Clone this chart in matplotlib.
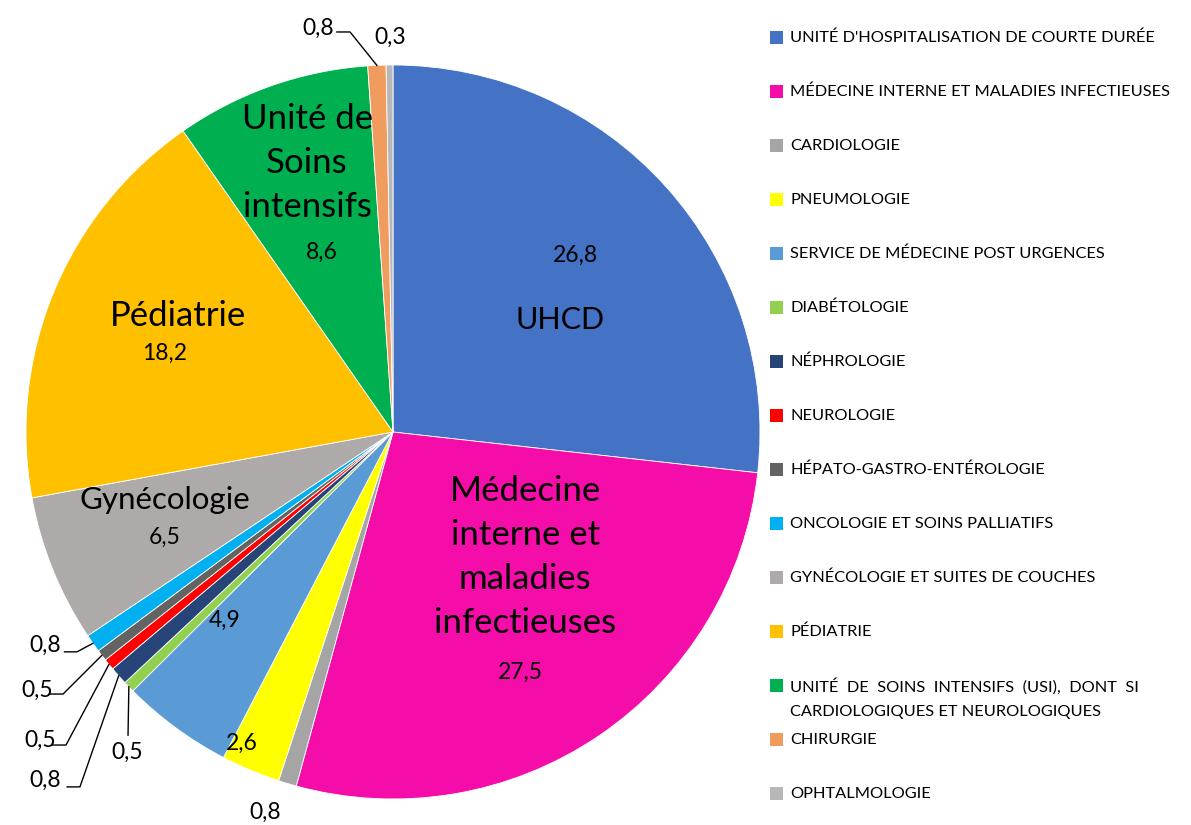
import numpy as np
import matplotlib
matplotlib.use("Agg")
import matplotlib.pyplot as plt
from matplotlib.patches import Rectangle
from matplotlib import font_manager

# ---------------- data ----------------
services = [
    "UNITÉ D'HOSPITALISATION DE COURTE DURÉE",
    "MÉDECINE INTERNE ET MALADIES INFECTIEUSES",
    "CARDIOLOGIE",
    "PNEUMOLOGIE",
    "SERVICE DE MÉDECINE POST URGENCES",
    "DIABÉTOLOGIE",
    "NÉPHROLOGIE",
    "NEUROLOGIE",
    "HÉPATO-GASTRO-ENTÉROLOGIE",
    "ONCOLOGIE ET SOINS PALLIATIFS",
    "GYNÉCOLOGIE ET SUITES DE COUCHES",
    "PÉDIATRIE",
    "UNITÉ  DE  SOINS  INTENSIFS  (USI),  DONT  SI\nCARDIOLOGIQUES ET NEUROLOGIQUES",
    "CHIRURGIE",
    "OPHTALMOLOGIE",
]
values = [26.8, 27.5, 0.8, 2.6, 4.9, 0.5, 0.8, 0.5, 0.5, 0.8, 6.5, 18.2, 8.6, 0.8, 0.3]
value_labels = ["26,8", "27,5", "0,8", "2,6", "4,9", "0,5", "0,8", "0,5", "0,5",
                "0,8", "6,5", "18,2", "8,6", "0,8", "0,3"]
names_in_pie = {0: "UHCD", 1: "Médecine\ninterne et\nmaladies\ninfectieuses",
                10: "Gynécologie", 11: "Pédiatrie", 12: "Unité de\nSoins\nintensifs"}
colors = ["#4472C4", "#F50DA9", "#A5A5A5", "#FFFF00", "#5B9BD5", "#92D050",
          "#264478", "#FF0000", "#636363", "#00B0F0", "#AEAAAA", "#FFC000",
          "#00B050", "#F19C5F", "#B7B7B7"]

# ---------------- fonts ----------------
avail = {f.name for f in font_manager.fontManager.ttflist}
main_font = "Lato" if "Lato" in avail else "DejaVu Sans"

W, H = 1191, 825
fig = plt.figure(figsize=(W / 100, H / 100), dpi=100)
cx, cy, R = 393, 432, 367
ax = fig.add_axes([(cx - R) / W, (H - cy - R) / H, 2 * R / W, 2 * R / H])

wedges, _ = ax.pie(values, colors=colors, startangle=90, counterclock=False,
                   radius=1.0, wedgeprops=dict(edgecolor="white", linewidth=0.6))
ax.set_xlim(-1, 1)
ax.set_ylim(-1, 1)
ax.set_aspect("equal")
ax.axis("off")

# positions of labels (data units, radius = 1)
name_pos = {0: (0.455, 0.305), 1: (0.360, -0.341), 10: (-0.621, -0.185),
            11: (-0.586, 0.316), 12: (-0.234, 0.733)}
name_size = {0: 22, 1: 25, 10: 22.5, 11: 25, 12: 25}
val_pos = {0: (0.496, 0.482), 1: (0.346, -0.654), 2: (-0.349, -1.035),
           3: (-0.411, -0.847), 4: (-0.458, -0.512), 5: (-0.725, -0.872),
           6: (-0.948, -0.948), 7: (-0.962, -0.839), 8: (-0.970, -0.703),
           9: (-0.948, -0.580), 10: (-0.621, -0.286), 11: (-0.621, 0.215),
           12: (-0.193, 0.490), 13: (-0.204, 1.101), 14: (-0.008, 1.076)}
# leader lines: (start, elbow) ; end is the wedge edge at its mid angle
leaders = {9: ((-0.895, -0.599), (-0.861, -0.599)),
           8: ((-0.935, -0.714), (-0.899, -0.714)),
           7: ((-0.929, -0.853), (-0.891, -0.853)),
           6: ((-0.888, -0.967), (-0.853, -0.967)),
           5: ((-0.722, -0.826), (-0.722, -0.826)),
           13: ((-0.153, 1.090), (-0.117, 1.090))}

for i, txt in names_in_pie.items():
    ax.text(*name_pos[i], txt, ha="center", va="center", fontsize=name_size[i],
            family=main_font, linespacing=1.46, color="black")

for i, txt in enumerate(value_labels):
    x, y = val_pos[i]
    ax.text(x, y, txt, ha="center", va="center", fontsize=16.5,
            family=main_font, color="black")

for i, (start, elbow) in leaders.items():
    w = wedges[i]
    mid = np.deg2rad((w.theta1 + w.theta2) / 2)
    end = (w.r * np.cos(mid), w.r * np.sin(mid))
    ax.plot([start[0], elbow[0], end[0]], [start[1], elbow[1], end[1]],
            color="black", lw=1.0, clip_on=False)

# ---------------- legend ----------------
leg_x = 770
row_y = 38
step = 54
for i, (lab, col) in enumerate(zip(services, colors)):
    y = row_y + i * step
    fig.patches.append(Rectangle((leg_x / W, 1 - (y + 6) / H), 13 / W, 13 / H,
                                 transform=fig.transFigure, facecolor=col,
                                 edgecolor="none"))
    for k, ln in enumerate(lab.split("\n")):
        fig.text(790 / W, 1 - (y + k * 26) / H, ln, ha="left", va="center",
                 fontsize=11.8, family=main_font, color="black")

fig.savefig("out.png", dpi=100, facecolor="white")
